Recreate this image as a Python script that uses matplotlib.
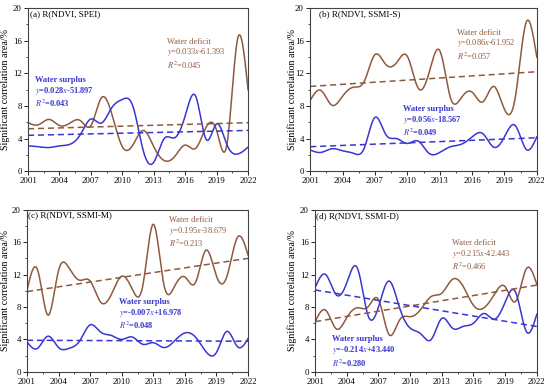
import numpy as np
import matplotlib
matplotlib.use("Agg")
import matplotlib.pyplot as plt
from matplotlib.ticker import MultipleLocator

plt.rcParams['font.family'] = ['Liberation Serif', 'DejaVu Serif']
plt.rcParams['mathtext.fontset'] = 'stix'

years = np.arange(2001, 2023)
xticks = [2001, 2004, 2007, 2010, 2013, 2016, 2019, 2022]
yticks = [0, 4, 8, 12, 16, 20]

# yearly values (%)
a_deficit = [5.95, 5.7, 6.35, 5.6, 5.9, 6.2, 5.6, 9.0, 7.0, 3.0, 3.2, 5.0, 3.0, 1.3,
             1.8, 3.2, 2.8, 5.4, 5.0, 3.4, 16.2, 10.0]
a_surplus = [3.1, 3.0, 2.9, 3.1, 3.3, 4.5, 6.4, 5.9, 7.8, 8.8, 8.0, 2.5, 1.1, 4.0,
             4.1, 6.8, 9.2, 3.9, 5.8, 3.2, 2.1, 2.95]
b_deficit = [8.7, 9.9, 8.1, 9.2, 10.3, 11.0, 14.3, 13.1, 13.3, 14.1, 10.2, 12.0, 14.8,
             9.0, 9.0, 9.7, 8.5, 10.4, 7.6, 9.0, 18.2, 14.0]
b_surplus = [2.6, 2.3, 2.75, 2.5, 2.2, 2.8, 6.6, 4.5, 4.0, 3.4, 3.7, 2.2, 2.3, 3.0,
             3.3, 4.2, 4.6, 2.95, 4.2, 5.6, 2.7, 4.2]
c_deficit = [10.0, 12.6, 7.0, 12.5, 12.8, 11.3, 11.2, 8.6, 9.5, 11.8, 10.2, 10.6, 18.2,
             10.8, 10.5, 11.7, 11.0, 15.0, 11.8, 11.8, 16.6, 14.4]
c_surplus = [3.7, 2.9, 4.4, 3.0, 2.9, 3.8, 5.8, 4.9, 4.5, 4.0, 4.3, 3.4, 3.6, 3.0,
             3.8, 4.8, 4.3, 2.5, 2.4, 5.0, 3.1, 4.1]
d_deficit = [6.2, 7.6, 5.3, 6.7, 7.9, 8.0, 8.9, 4.6, 6.4, 6.8, 7.7, 9.3, 9.7, 11.4,
             10.6, 8.2, 7.9, 9.6, 10.5, 8.7, 12.7, 10.8]
d_surplus = [10.4, 12.0, 9.5, 11.0, 12.8, 7.0, 8.0, 11.2, 7.9, 5.4, 4.7, 4.0, 6.6, 5.4,
             5.6, 6.0, 7.2, 6.5, 8.6, 9.8, 5.0, 7.1]

# trend line values at 2001 and 2022
a_deficit_trend = [5.2, 5.95]
a_surplus_trend = [4.4, 5.0]
b_deficit_trend = [10.4, 12.2]
b_surplus_trend = [3.0, 4.1]
c_deficit_trend = [9.9, 14.0]
c_surplus_trend = [3.9, 3.78]
d_deficit_trend = [6.2, 10.7]
d_surplus_trend = [10.1, 5.6]

titles = ['(a) R(NDVI, SPEI)', '(b) R(NDVI, SSMI-S)',
          '(c) R(NDVI, SSMI-M)', '(d) R(NDVI, SSMI-D)']
deficit_eq = ['0.033$x$-61.393', '0.086$x$-61.952', '0.195$x$-38.679', '0.215$x$-42.443']
deficit_r2 = ['0.045', '0.057', '0.213', '0.466']
surplus_eq = ['0.028$x$-51.897', '0.056$x$-18.567', '-0.007$x$+16.978', '-0.214$x$+43.440']
surplus_r2 = ['0.043', '0.049', '0.048', '0.280']

brown = '#8E5A3E'
blue = '#3A36D2'


def spline(x, y, xs):
    # natural cubic spline, used only to draw the smooth curve through the yearly values
    x = np.asarray(x, float)
    y = np.asarray(y, float)
    n = len(x)
    h = np.diff(x)
    A = np.zeros((n, n))
    r = np.zeros(n)
    A[0, 0] = A[-1, -1] = 1
    for i in range(1, n - 1):
        A[i, i - 1] = h[i - 1]
        A[i, i] = 2 * (h[i - 1] + h[i])
        A[i, i + 1] = h[i]
        r[i] = 3 * ((y[i + 1] - y[i]) / h[i] - (y[i] - y[i - 1]) / h[i - 1])
    c = np.linalg.solve(A, r)
    b = (y[1:] - y[:-1]) / h - h * (2 * c[:-1] + c[1:]) / 3
    d = (c[1:] - c[:-1]) / (3 * h)
    k = np.clip(np.searchsorted(x, xs) - 1, 0, n - 2)
    t = xs - x[k]
    return y[k] + b[k] * t + c[k] * t ** 2 + d[k] * t ** 3


def panel(ax, i, deficit, surplus, dtrend, strend, tpos, dpos, spos, ylab_x):
    xs = np.linspace(years[0], years[-1], 600)
    ax.plot(xs, spline(years, deficit, xs), color=brown, lw=1.1)
    ax.plot(xs, spline(years, surplus, xs), color=blue, lw=1.1)
    ax.plot([years[0], years[-1]], dtrend, '--', color=brown, lw=1.1, dashes=(4, 2.5))
    ax.plot([years[0], years[-1]], strend, '--', color=blue, lw=1.1, dashes=(4, 2.5))

    ax.set_xlim(2001, 2022)
    ax.set_ylim(0, 20)
    ax.set_xticks(xticks)
    ax.set_yticks(yticks)
    ax.xaxis.set_minor_locator(MultipleLocator(1.5))
    ax.yaxis.set_minor_locator(MultipleLocator(2))
    ax.tick_params(which='major', direction='out', length=3, width=0.6,
                   labelsize=6.3, pad=1.5)
    ax.tick_params(which='minor', direction='out', length=1.6, width=0.5)
    for s in ax.spines.values():
        s.set_linewidth(0.8)
        s.set_color('#444444')
    ax.set_ylabel('Significant correlation area/%', fontsize=7.2)
    ax.yaxis.set_label_coords(ylab_x, 0.5)

    ax.text(tpos[0], tpos[1], titles[i], fontsize=6.6, va='top', ha='left')
    ax.text(dpos[0], dpos[1],
            'Water deficit\n$y$=' + deficit_eq[i] + '\n$R^2$=' + deficit_r2[i],
            color=brown, fontsize=6, va='top', ha='left', linespacing=1.1)
    ax.text(spos[0], spos[1],
            'Water surplus\n$y$=' + surplus_eq[i] + '\n$R^2$=' + surplus_r2[i],
            color=blue, fontsize=6, va='top', ha='left', linespacing=1.1,
            fontweight='bold')


def main():
    fig = plt.figure(figsize=(5.5, 3.89), dpi=100)
    ax1 = fig.add_axes([0.051, 0.560, 0.400, 0.419])
    ax2 = fig.add_axes([0.564, 0.560, 0.412, 0.419])
    ax3 = fig.add_axes([0.049, 0.044, 0.402, 0.417])
    ax4 = fig.add_axes([0.573, 0.044, 0.403, 0.417])

    panel(ax1, 0, a_deficit, a_surplus, a_deficit_trend, a_surplus_trend,
          (2001.2, 19.7), (2014.3, 16.4), (2001.7, 11.7), -0.08)
    panel(ax2, 1, b_deficit, b_surplus, b_deficit_trend, b_surplus_trend,
          (2001.8, 19.7), (2014.6, 17.5), (2009.6, 8.1), -0.06)
    panel(ax3, 2, c_deficit, c_surplus, c_deficit_trend, c_surplus_trend,
          (2001.1, 19.8), (2014.5, 19.2), (2009.75, 9.1), -0.078)
    panel(ax4, 3, d_deficit, d_surplus, d_deficit_trend, d_surplus_trend,
          (2001.1, 19.7), (2014.0, 16.4), (2002.6, 4.5), -0.082)

    fig.savefig('out.png', dpi=100)


if __name__ == "__main__":
    main()
